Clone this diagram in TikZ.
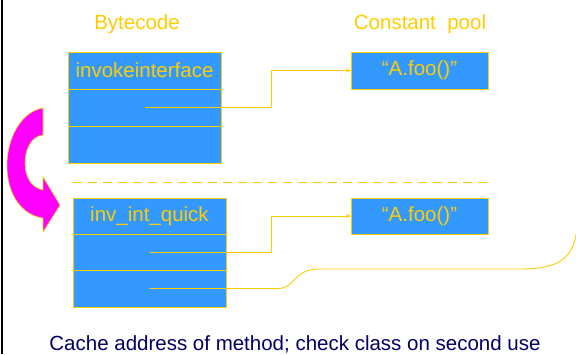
\documentclass[tikz,border=0pt]{standalone}
\usepackage{fontspec}
\setmainfont{Liberation Sans}
\usetikzlibrary{arrows.meta}
\definecolor{gold}{HTML}{FFCC00}
\definecolor{boxblue}{HTML}{3399FF}
\definecolor{navy}{HTML}{000066}
\definecolor{hotpink}{HTML}{FF00FF}
\tikzset{
  cell/.style={draw=gold, fill=boxblue, text=gold, minimum width=153pt, minimum height=37pt, inner sep=0pt, font=\fontsize{20.5}{24}\selectfont},
  poolcell/.style={cell, minimum width=137pt},
  title/.style={text=gold, anchor=base, font=\fontsize{20.5}{24}\selectfont},
  link/.style={draw=gold, line width=0.9pt},
  pointer/.style={link, -{Stealth[length=5pt,width=4pt]}}
}
\begin{document}
\begin{tikzpicture}[x=1pt, y=-1pt]
        \useasboundingbox (0,0) rectangle (576,354);
        \draw[black, line width=2pt] (1.5,0) -- (1.5,354);

        \node[title] (bclabel) at (137,29) {Bytecode};
        \node[title] (cplabel) at (420,29) {Constant\ \ pool};

        % before
        \node[cell] (b1) at (144.5,70.5) {invokeinterface};
        \node[cell] (b2) at (144.5,107.5) {};
        \node[cell] (b3) at (144.5,144.5) {};
        \node[poolcell] (p1) at (419.5,70.5) {“A.foo()”};
        \draw[pointer] (b2.center) -- ++(126.5,0) |- (p1.west);

        \coordinate (dashl) at (73,182);
        \coordinate (dashr) at (488,182);
        \draw[gold, line width=0.9pt, dash pattern=on 9pt off 6pt] (dashl) -- (dashr);

        % after
        \node[cell, minimum height=36pt] (q1) at (149.5,216) {inv\_int\_quick};
        \node[cell, minimum height=36pt] (q2) at (149.5,252) {};
        \node[cell, minimum height=37pt] (q3) at (149.5,288.5) {};
        \node[poolcell, minimum height=36pt] (p2) at (419.5,216) {“A.foo()”};
        \draw[pointer] (q2.center) -- ++(121.5,0) |- (p2.west);
        \coordinate (cacheend) at (577,228);
        \draw[link] (q3.center) -- (278,288.5) .. controls (296,288.5) and (292,269) .. (320,269)
            -- (520,269) .. controls (560,269) and (574,258) .. (cacheend);

        % rewrite arrow
        \draw[gold, fill=hotpink, line width=0.6pt] (43,108)
            .. controls (20,112) and (7,140) .. (7,165)
            .. controls (7,195) and (22,215) .. (43,218)
            -- (43,232) -- (60,205) -- (43,177) -- (43,190)
            .. controls (32,188) and (25,178) .. (25,163)
            .. controls (25,148) and (32,136) .. (43,135) -- cycle;

        \node[anchor=base, text=navy, font=\fontsize{20.5}{24}\selectfont] (caption) at (295,350)
            {Cache address of method; check class on second use};
\end{tikzpicture}
\end{document}
